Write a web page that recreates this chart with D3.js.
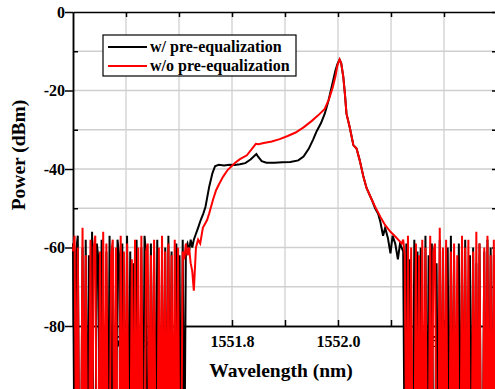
<!DOCTYPE html>
<html>
<head>
<meta charset="utf-8">
<script src="https://cdn.jsdelivr.net/npm/d3@7"></script>
<style>
  html, body { margin: 0; padding: 0; background: #fff; }
  svg { display: block; }
  text { font-family: "Liberation Serif", "Times New Roman", serif; font-weight: bold; fill: #000; }
</style>
</head>
<body>
<svg id="chart" width="495" height="389"></svg>
<script>
// ---------------- DATA ----------------
const xTicksMajor = [1551.6, 1551.8, 1552.0, 1552.2];
const xTicksMinor = [1551.7, 1551.9, 1552.1];
const yTicksMajor = [0, -20, -40, -60, -80];
const yTicksMinor = [-10, -30, -50, -70];
const seriesNames = ["w/ pre-equalization", "w/o pre-equalization"];

// noise floor samples (dBm), sampled every noiseStep nm
const noiseStep = 0.003;
const leftNoiseStart = 1551.500;
const rightNoiseStart = 1552.123;

const blackLeftNoise = [
  -59,-120,-61,-57,-120,-120,-60,-120,-58,-120,
  -62,-120,-56,-120,-120,-59,-63,-120,-58,-120,
  -120,-61,-120,-57,-120,-60,-120,-120,-58,-62,
  -120,-59,-120,-120,-57,-120,-61,-120,-64,-120,
  -58,-120,-120,-60,-120,-57,-62,-120,-120,-59,
  -120,-61,-120,-58,-120,-120,-63,-120,-60,-120,
  -57,-120,-61,-120,-120,-59,-120,-62,-120,-58,
  -120,-60,-59,-61,-58,-60
];
const redLeftNoise = [
  -61,-57,-120,-60,-120,-120,-55,-120,-62,-120,
  -120,-58,-120,-60,-57,-120,-120,-61,-120,-56,
  -120,-59,-120,-120,-62,-58,-120,-60,-120,-120,
  -57,-120,-61,-120,-59,-120,-120,-63,-120,-58,
  -120,-60,-120,-57,-120,-120,-61,-59,-120,-62,
  -120,-58,-120,-120,-60,-120,-57,-120,-61,-120,
  -59,-120,-62,-120,-58,-120,-60,-120,-120,-61,
  -63,-59,-62,-60,-64,-66
];
const blackRightNoise = [
  -61,-120,-59,-120,-63,-120,-120,-58,-120,-61,
  -120,-60,-120,-120,-57,-120,-62,-120,-59,-120,
  -120,-64,-120,-58,-120,-61,-120,-120,-60,-120,
  -57,-120,-63,-120,-120,-59,-120,-61,-120,-58,
  -120,-120,-62,-120,-60,-120,-64,-120,-59,-120,
  -120,-61,-120,-58,-120,-60,-120,-62,-120,-59
];
const redRightNoise = [
  -58,-62,-120,-57,-120,-60,-120,-120,-59,-120,
  -62,-120,-58,-120,-60,-120,-120,-57,-120,-61,
  -59,-120,-120,-55,-120,-60,-120,-58,-120,-120,
  -61,-120,-59,-120,-62,-120,-120,-57,-120,-60,
  -120,-58,-120,-120,-61,-120,-56,-120,-59,-120,
  -120,-60,-120,-57,-120,-62,-120,-58,-120,-60
];

// signal part [wavelength nm, power dBm]
const blackSignal = [
  [1551.728,-58],[1551.732,-56.5],[1551.736,-55],[1551.741,-53],[1551.746,-51.3],
  [1551.750,-49.6],[1551.757,-44.5],[1551.763,-41.1],[1551.768,-39.3],[1551.775,-38.9],
  [1551.785,-39.1],[1551.795,-38.9],[1551.805,-39.0],[1551.815,-38.8],[1551.825,-38.5],
  [1551.835,-37.6],[1551.841,-36.8],[1551.846,-36.2],[1551.850,-37.0],[1551.856,-38.0],
  [1551.865,-38.4],[1551.880,-38.4],[1551.895,-38.3],[1551.910,-38.2],[1551.925,-37.8],
  [1551.935,-36.8],[1551.945,-34.8],[1551.953,-32.5],[1551.960,-30.3],[1551.968,-28.3],
  [1551.975,-25.9],[1551.982,-22.6],[1551.989,-18.5],[1551.995,-15.0],[1551.999,-13.2],
  [1552.003,-12.1],[1552.006,-13.0],[1552.010,-16.5],[1552.013,-20.8],[1552.016,-25.9],
  [1552.022,-29.3],[1552.029,-33.9],[1552.035,-34.8],[1552.041,-37.8],[1552.048,-42.0],
  [1552.054,-44.9],[1552.064,-47.9],[1552.070,-50.0],[1552.076,-51.5],[1552.080,-53.5],
  [1552.085,-57.0],[1552.089,-55.0],[1552.094,-57.5],[1552.099,-61.5],[1552.103,-57.0],
  [1552.108,-59.0],[1552.113,-63.0],[1552.117,-59.0],[1552.120,-60.0]
];
const redSignal = [
  [1551.728,-71],[1551.732,-60],[1551.736,-58],[1551.740,-59],[1551.745,-55],
  [1551.753,-53],[1551.757,-51.3],[1551.764,-47.9],[1551.770,-45.4],[1551.775,-44.0],
  [1551.783,-42.0],[1551.792,-40.2],[1551.806,-38.4],[1551.815,-37.5],[1551.828,-36.5],
  [1551.838,-34.8],[1551.845,-33.6],[1551.850,-33.7],[1551.860,-33.4],[1551.875,-33.0],
  [1551.890,-32.4],[1551.905,-31.6],[1551.920,-30.7],[1551.935,-29.4],[1551.950,-27.8],
  [1551.962,-26.4],[1551.975,-24.7],[1551.983,-22.2],[1551.990,-19.2],[1551.995,-16.5],
  [1551.999,-13.6],[1552.003,-12.1],[1552.006,-13.0],[1552.010,-16.5],[1552.013,-20.8],
  [1552.016,-25.9],[1552.022,-29.3],[1552.029,-33.9],[1552.035,-34.8],[1552.041,-37.8],
  [1552.048,-42.0],[1552.054,-44.9],[1552.064,-47.9],[1552.070,-49.6],[1552.080,-52.2],
  [1552.089,-54.3],[1552.099,-56.0],[1552.108,-57.2],[1552.117,-58.5],[1552.120,-59.0]
];

// ---------------- BUILD ----------------
function withNoise(leftNoise, signal, rightNoise) {
  const pts = [];
  leftNoise.forEach((v, i) => pts.push([leftNoiseStart + i * noiseStep, v]));
  signal.forEach(p => pts.push(p));
  rightNoise.forEach((v, i) => pts.push([rightNoiseStart + i * noiseStep, v]));
  return pts;
}
const series = [
  { name: seriesNames[0], color: "#000000", points: withNoise(blackLeftNoise, blackSignal, blackRightNoise) },
  { name: seriesNames[1], color: "#ff0000", points: withNoise(redLeftNoise, redSignal, redRightNoise) }
];

const svg = d3.select("#chart");
const L = 73, R = 497, T = 12, B = 326;
const x = d3.scaleLinear().domain([1551.5, 1552.3]).range([L, R]);
const y = d3.scaleLinear().domain([-80, 0]).range([B, T]);

// grid
const grid = svg.append("g").attr("stroke", "#cfcfcf").attr("stroke-width", 1.3);
grid.selectAll("line.gx").data(xTicksMajor.concat(xTicksMinor)).enter().append("line")
  .attr("x1", d => x(d)).attr("x2", d => x(d)).attr("y1", T).attr("y2", B);
grid.selectAll("line.gy").data(yTicksMajor.concat(yTicksMinor).filter(d => d !== 0 && d !== -80)).enter().append("line")
  .attr("y1", d => y(d)).attr("y2", d => y(d)).attr("x1", L).attr("x2", R);

const fmt = d => String(d);
function styleAxis(g) {
  g.selectAll("path.domain").attr("stroke", "#000").attr("stroke-width", 1.5);
  g.selectAll(".tick line").attr("stroke", "#000").attr("stroke-width", 1.5);
}

// bottom axis
const gb = svg.append("g").attr("transform", `translate(0,${B})`)
  .call(d3.axisBottom(x).tickValues(xTicksMajor).tickSizeInner(-6).tickSizeOuter(0)
    .tickFormat(d => d3.format(".1f")(d)));
gb.selectAll("text").attr("y", 21).attr("dy", null).attr("font-size", 16)
  .attr("font-family", "Liberation Serif, serif").attr("font-weight", "bold").attr("fill", "#000");
gb.call(styleAxis);
const gbm = svg.append("g").attr("transform", `translate(0,${B})`)
  .call(d3.axisBottom(x).tickValues(xTicksMinor).tickSizeInner(-6).tickSizeOuter(0).tickFormat(""));
gbm.call(styleAxis);

// top axis
const gt = svg.append("g").attr("transform", `translate(0,${T})`)
  .call(d3.axisTop(x).tickValues(xTicksMajor.concat(xTicksMinor)).tickSizeInner(-5).tickSizeOuter(0).tickFormat(""));
gt.call(styleAxis);

// left axis
const gl = svg.append("g").attr("transform", `translate(${L},0)`)
  .call(d3.axisLeft(y).tickValues(yTicksMajor).tickSizeInner(8).tickSizeOuter(0).tickPadding(0).tickFormat(fmt));
gl.selectAll("text").attr("x", -8).attr("dy", "0.34em").attr("font-size", 16)
  .attr("font-family", "Liberation Serif, serif").attr("font-weight", "bold").attr("fill", "#000");
gl.call(styleAxis);
const glm = svg.append("g").attr("transform", `translate(${L},0)`)
  .call(d3.axisLeft(y).tickValues(yTicksMinor).tickSizeInner(-5).tickSizeOuter(0).tickFormat(""));
glm.call(styleAxis);

// right axis
const gr = svg.append("g").attr("transform", `translate(${R},0)`)
  .call(d3.axisRight(y).tickValues(yTicksMajor.concat(yTicksMinor)).tickSizeInner(-5).tickSizeOuter(0).tickFormat(""));
gr.call(styleAxis);

// titles
svg.append("text").attr("x", 281).attr("y", 377).attr("text-anchor", "middle")
  .attr("font-size", 19.5).text("Wavelength (nm)");
svg.append("text").attr("transform", "translate(25,155) rotate(-90)").attr("text-anchor", "middle")
  .attr("font-size", 19.5).text("Power (dBm)");

// data
const line = d3.line().x(d => x(d[0])).y(d => y(d[1]));
svg.append("g").selectAll("path.series").data(series).enter().append("path")
  .attr("d", d => line(d.points))
  .attr("fill", "none")
  .attr("stroke", d => d.color)
  .attr("stroke-width", 2);

// legend
const lg = svg.append("g");
lg.append("rect").attr("x", 103).attr("y", 35).attr("width", 193).attr("height", 41)
  .attr("fill", "#fff").attr("stroke", "#000").attr("stroke-width", 1.2);
series.forEach((s, i) => {
  const yy = 47 + i * 19;
  lg.append("line").attr("x1", 108).attr("x2", 147).attr("y1", yy).attr("y2", yy)
    .attr("stroke", s.color).attr("stroke-width", 2);
  lg.append("text").attr("x", 150).attr("y", yy + 5).attr("font-size", 16).text(s.name);
});
</script>
</body>
</html>
